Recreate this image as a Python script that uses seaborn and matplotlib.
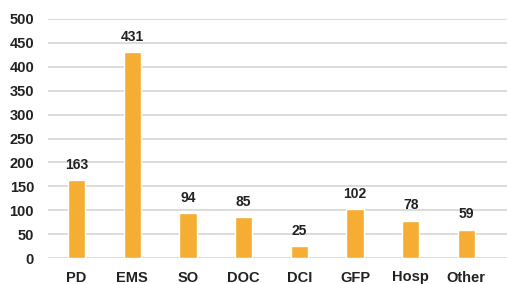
import matplotlib
matplotlib.use("Agg")
import matplotlib.pyplot as plt
import seaborn as sns
import pandas as pd

categories = ["PD", "EMS", "SO", "DOC", "DCI", "GFP", "Hosp", "Other"]
values = [163, 431, 94, 85, 25, 102, 78, 59]
yticks = [0, 50, 100, 150, 200, 250, 300, 350, 400, 450, 500]

sns.set_style("white")
plt.rcParams['font.family'] = ['Liberation Sans', 'DejaVu Sans']

df = pd.DataFrame({"cat": categories, "val": values})
fig = plt.figure(figsize=(5.07, 2.84), dpi=100)
ax = fig.add_axes([48/507, 1 - 258/284, (507-48)/507, (258-19)/284])

sns.barplot(data=df, x="cat", y="val", color="#F5AD33", saturation=1, width=0.31, ax=ax, zorder=3)

ax.set_ylim(0, 500)
ax.set_xlim(-0.515, 7.73)
ax.set_yticks(yticks)
ax.grid(axis="y", color="#d9d9d9", linewidth=1.3, zorder=0)
ax.set_axisbelow(True)
for s in ax.spines.values():
    s.set_visible(False)
ax.set_xlabel("")
ax.set_ylabel("")
ax.tick_params(axis="y", length=0, pad=10, labelsize=10.5)
ax.tick_params(axis="x", length=0, pad=9, labelsize=10.5)
for lab in ax.get_yticklabels() + ax.get_xticklabels():
    lab.set_fontweight("bold")
    lab.set_color("#222222")

for i, v in enumerate(values):
    ax.annotate(str(v), (i, v), xytext=(0, 6), textcoords="offset points",
                ha="center", va="bottom", fontsize=10, fontweight="bold", color="#222222")

fig.savefig("out.png", dpi=100)
